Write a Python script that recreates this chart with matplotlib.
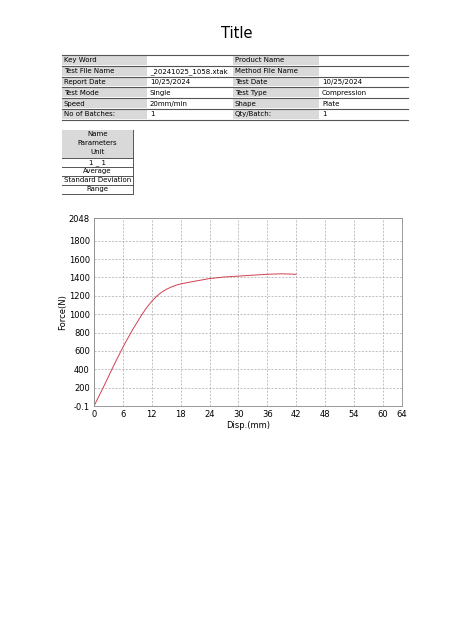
import matplotlib
matplotlib.use("Agg")
import matplotlib.pyplot as plt
from matplotlib.patches import Rectangle

W, H = 474, 632
info_rows = [
    ["Key Word", "", "Product Name", ""],
    ["Test File Name", "_20241025_1058.xtak", "Method File Name", ""],
    ["Report Date", "10/25/2024", "Test Date", "10/25/2024"],
    ["Test Mode", "Single", "Test Type", "Compression"],
    ["Speed", "20mm/min", "Shape", "Plate"],
    ["No of Batches:", "1", "Qty/Batch:", "1"],
]
small_rows = ["1 _ 1", "Average", "Standard Deviation", "Range"]
disp = [0, 2, 4, 6, 8, 10, 11, 12, 13, 14, 15, 16, 17, 18, 21, 24, 27, 30, 33, 36, 39, 42]
force = [0, 210, 430, 640, 830, 1000, 1075, 1140, 1195, 1238, 1270, 1295, 1315, 1330, 1360, 1388, 1405, 1415, 1425, 1435, 1440, 1435]
xticks = [0, 6, 12, 18, 24, 30, 36, 42, 48, 54, 60, 64]
yticks = [-0.1, 200, 400, 600, 800, 1000, 1200, 1400, 1600, 1800, 2048]
ytick_labels = ["-0.1", "200", "400", "600", "800", "1000", "1200", "1400", "1600", "1800", "2048"]

fig = plt.figure(figsize=(W/100, H/100), dpi=100)
bg = fig.add_axes([0, 0, 1, 1])
bg.set_xlim(0, W); bg.set_ylim(H, 0); bg.axis("off")
bg.text(237, 33, "Title", ha="center", va="center", fontsize=10.5)

gray = "#d9d9d9"
cols = [62, 148, 233, 320, 408]
top = 55; rh = 10.8
for i, row in enumerate(info_rows):
    y0 = top + i * rh
    for j in range(4):
        if j % 2 == 0:
            bg.add_patch(Rectangle((cols[j], y0 + 1), cols[j+1] - cols[j] - 1, rh - 2, color=gray, lw=0))
        bg.text(cols[j] + 2, y0 + rh/2, row[j], fontsize=5, va="center", ha="left")
    bg.plot([62, 408], [y0, y0], color="#555555", lw=0.8)
bg.plot([62, 408], [top + 6*rh, top + 6*rh], color="#555555", lw=0.8)

sx0, sx1 = 62, 133
bg.add_patch(Rectangle((sx0, 130), sx1 - sx0, 28, color=gray, lw=0))
for k, t in enumerate(["Name", "Parameters", "Unit"]):
    bg.text((sx0+sx1)/2, 134 + k*9, t, fontsize=5, ha="center", va="center")
yy = 158
for t in small_rows:
    bg.plot([sx0, sx1], [yy, yy], color="#555555", lw=0.7)
    bg.text((sx0+sx1)/2, yy + 4.5, t, fontsize=5, ha="center", va="center")
    yy += 9
bg.plot([sx0, sx1], [yy, yy], color="#555555", lw=0.7)
bg.plot([sx1, sx1], [130, yy], color="#555555", lw=0.7)

ax = fig.add_axes([94/W, 1 - 406/H, (402-94)/W, (406-218)/H])
ax.plot(disp, force, color="#d04050", lw=0.7)
ax.set_xlim(0, 64); ax.set_ylim(-0.1, 2048)
ax.set_xticks(xticks); ax.set_yticks(yticks)
ax.set_yticklabels(ytick_labels)
ax.tick_params(labelsize=6, length=0, pad=3)
ax.grid(True, color="#aaaaaa", ls=(0, (3, 2)), lw=0.5)
for s in ax.spines.values():
    s.set_color("#888888"); s.set_linewidth(0.6)
ax.set_xlabel("Disp.(mm)", fontsize=6, labelpad=1)
ax.set_ylabel("Force(N)", fontsize=6, labelpad=1)

fig.savefig("out.png", dpi=100)
